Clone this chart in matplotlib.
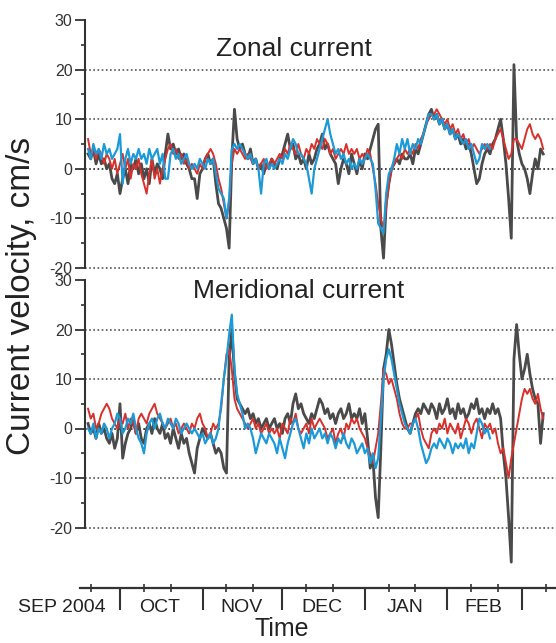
import datetime as dt

import matplotlib
matplotlib.use("Agg")
import matplotlib.dates as mdates
import matplotlib.pyplot as plt
import matplotlib.ticker as ticker
import matplotlib.transforms as mtransforms
import pandas as pd

plt.rcParams["font.family"] = ["Liberation Sans", "DejaVu Sans"]
plt.rcParams["axes.unicode_minus"] = False

# ── Data: daily current velocity (cm/s) ──────────────────────────────────────
OBS_START = "2004-09-19"      # grey (observed) and red series start here
BLUE_START = "2004-09-19"     # blue series starts here, ends mid-February

zonal_obs = [
    3, 2, 4, 1, 3, 1, 2, 0, 1, -2,
    -3, -1, -5, -2, 0, -3, 1, 0, 2, -1,
    1, -2, 0, -3, 2, -1, 1, 0, -2, 3,
    7, 4, 5, 3, 4, 2, 3, 1, 0, -2,
    -2, -6, -1, 0, 2, 3, 1, 2, -3, -7,
    -8, -10, -12, -16, 2, 12, 6, 4, 5, 3,
    2, 4, 1, 2, 0, 1, -1, 1, 0, 2,
    1, 0, 2, 3, 5, 7, 4, 5, 2, 3,
    1, 2, 0, 3, 1, 2, 4, 5, 7, 4,
    5, 3, 2, 1, -3, 0, 2, 1, -1, 3,
    1, -1, 2, 0, 3, 2, 4, 6, 8, 9,
    -12, -18, -7, -3, 0, 1, 2, 1, 3, 2,
    2, 3, 1, 4, 3, 5, 7, 9, 11, 12,
    10, 11, 9, 10, 8, 9, 7, 8, 6, 7,
    5, 6, 4, 5, 3, 0, -3, -2, 1, 3,
    4, 3, 5, 6, 8, 10, 6, 1, -6, -14,
    21, 6, 3, 1, 0, -2, -5, -1, 2, 0, 4, 3,
]
zonal_red = [
    6, 3, 4, 2, 4, 3, 1, 3, 2, 0,
    2, -1, 1, 3, 0, 2, -2, 1, 0, 2,
    -1, -3, -5, -1, 2, -2, 0, -3, 0, 2,
    4, 5, 3, 4, 2, 3, 1, 2, 0, 1,
    0, -1, 1, 0, 2, 3, 4, 3, 1, -2,
    -4, -7, -10, -7, 1, 4, 3, 4, 3, 2,
    3, 2, 1, 2, 0, 1, 2, 0, 1, 2,
    1, 2, 3, 2, 4, 3, 5, 4, 3, 5,
    3, 2, 4, 3, 5, 4, 6, 5, 4, 6,
    5, 3, 4, 2, 3, 4, 3, 5, 3, 4,
    3, 4, 2, 3, 2, 4, 3, 0, -3, -7,
    -10, -12, -8, -3, 0, 1, 2, 3, 2, 4,
    3, 4, 3, 5, 4, 6, 7, 9, 10, 11,
    11, 12, 11, 10, 9, 10, 8, 9, 7, 8,
    6, 7, 5, 6, 4, 5, 4, 3, 4, 5,
    4, 5, 4, 6, 7, 8, 6, 4, 2, 3,
    6, 6, 5, 4, 6, 8, 9, 7, 6, 7, 6, 4,
]
zonal_blue = [
    4, 2, 5, 3, 4, 2, 5, 3, 4, 2,
    3, 4, 7, -3, 2, 4, 1, 3, 2, 4,
    2, 3, 1, 4, 2, 3, 4, 1, 3, -2,
    -2, 3, 4, 2, 3, 1, 2, 3, 1, 0,
    1, 0, 2, 1, 0, 2, 1, 2, -1, -4,
    -5, -6, -10, -6, 4, 5, 4, 5, 4, 3,
    2, 3, 1, 2, 0, -5, 1, 2, 0, 1,
    0, 1, 2, 1, 3, 2, 4, 6, 5, 3,
    3, 2, 1, -2, -5, 0, 2, 4, 6, 8,
    10, 7, 5, 3, 4, 2, 3, 1, 2, 0,
    1, 0, 2, 1, 2, 3, 2, 1, -4, -11,
    -12, -13, -5, -1, 0, 2, 5, 3, 6, 4,
    6, 3, 5, 4, 6, 5, 7, 9, 11, 11,
    10, 11, 9, 10, 8, 9, 7, 8, 6, 7,
    6, 5, 6, 4, 5, 3, 1, 2, 5, 4,
    5, 4,
]
merid_obs = [
    1, -1, 0, -2, 1, -1, 0, -2, -3, -1,
    -4, -2, 5, -6, -3, -1, 0, 2, -1, 1,
    -2, -3, 0, 1, -1, 2, 0, -1, 1, -2,
    -1, -3, 0, -2, -4, -1, -3, -2, -5, -7,
    -9, -4, -2, 0, -1, -2, -1, -3, -5, -4,
    -5, -8, -9, 14, 20, 11, 6, 5, 4, 3,
    4, 2, 3, 1, 2, 0, 1, 2, 0, 1,
    2, 0, 1, -1, 2, 3, 1, 5, 7, 4,
    5, 3, 2, 1, 3, 2, 4, 6, 5, 3,
    4, 2, 3, 1, 3, 4, 2, 3, 5, 2,
    3, 2, 4, 1, 3, -2, -8, -6, -14, -18,
    -4, 12, 15, 20, 17, 13, 9, 6, 4, 2,
    0, -1, 1, 3, 4, 3, 5, 4, 3, 5,
    4, 2, 5, 3, 4, 6, 3, 4, 2, 5,
    3, 4, 2, 3, 5, 4, 6, 3, 4, 2,
    4, 3, 5, 3, 4, 2, -5, -10, -18, -27,
    14, 21, 15, 10, 12, 15, 11, 8, 6, 5, -3, 3,
]
merid_red = [
    4, 2, 3, 0, 1, 3, 4, 5, 4, 2,
    1, 0, 2, 1, 3, 0, 2, 1, -1, 2,
    3, 2, 1, 3, 4, 5, 3, 2, 1, 0,
    1, 2, 0, 1, -1, 0, 1, 0, -1, 1,
    0, 2, 3, 1, 0, -2, -1, 1, 0, 1,
    4, 10, 15, 16, 12, 6, 4, 3, 2, 1,
    0, 1, 2, 0, 1, -1, 0, 1, -1, 0,
    -1, 0, -2, 1, 0, -1, 2, 1, 3, 0,
    -1, 0, 1, -1, 2, 0, 1, 2, 1, 0,
    -2, -1, 0, -3, -1, 0, -2, 1, 0, 2,
    1, 2, 0, -1, -2, -4, -5, -7, -4, -1,
    5, 12, 11, 9, 10, 8, 6, 3, 1, 0,
    0, 1, 1, 2, 3, 0, -2, -3, -4, -1,
    0, -1, 1, 0, 2, -1, 1, 0, -1, 1,
    -2, 0, 2, 1, -1, 1, 2, 0, -2, 1,
    0, 1, -1, 0, -3, -5, -4, -7, -10, -6,
    -3, 0, 3, 6, 8, 7, 8, 6, 5, 7, 4, 2,
]
merid_blue = [
    0, -1, 1, -2, 0, -1, 1, 0, -2, 0,
    1, 3, 2, -1, 0, 2, 1, 3, 0, -2,
    -3, -5, -1, 1, 2, 0, 2, 3, 1, 0,
    2, 1, 0, 2, 1, -1, 0, 1, 0, -1,
    0, -1, -2, -1, -3, -2, -1, -3, -2, 0,
    5, 10, 14, 19, 23, 12, 7, 5, 3, 0,
    1, 0, -2, -5, -3, -1, -2, -3, -1, -2,
    -3, -5, -2, -4, -6, -3, -1, 1, 2, 0,
    -2, -4, -1, -3, 0, -2, -1, 0, -2, -1,
    -3, -1, -2, -4, -2, -3, -1, -3, -4, -2,
    -3, -5, -4, -3, -5, -4, -7, -5, -8, -6,
    2, 10, 14, 16, 14, 11, 8, 5, 3, 1,
    0, -1, 1, 2, 0, -3, -5, -7, -6, -4,
    -3, -4, -2, -3, -4, -2, -3, -5, -3, -4,
    -3, -4, -2, -5, -3, -4, -1, 2, 1, -1,
    0, -2,
]

month_labels = ["SEP 2004", "OCT", "NOV", "DEC", "JAN", "FEB"]
month_label_dates = ["2004-09-09", "2004-10-16", "2004-11-15 12:00",
                     "2004-12-16", "2005-01-16", "2005-02-14 12:00"]

# ── Style ─────────────────────────────────────────────────────────────────────
C_OBS = "#4a4a4a"
C_RED = "#d8302a"
C_BLUE = "#1c9ad8"
C_AXIS = "#333333"
GRID_LEVELS = [-20, -10, 0, 10, 20]

W, H = 556, 643
fig = plt.figure(figsize=(W / 100, H / 100), dpi=100)


def fx(px):
    return px / W


def fy(py):
    return 1 - py / H


base = dt.datetime(2004, 9, 1)
x_left = mdates.date2num(base + dt.timedelta(days=16.85))
x_right = mdates.date2num(base + dt.timedelta(days=193.8))

t_obs = pd.date_range(OBS_START, periods=len(zonal_obs), freq="D")
t_blue = pd.date_range(BLUE_START, periods=len(zonal_blue), freq="D")


def panel(rect, ylim, obs, red, blue):
    ax = fig.add_axes(rect)
    ax.set_xlim(x_left, x_right)
    ax.set_ylim(*ylim)
    for lev in GRID_LEVELS:
        ax.axhline(lev, color="#222222" if lev == 0 else "#555555",
                   lw=1.2, ls=(0, (1, 1.5)), zorder=1, clip_on=False)
    ax.plot(t_obs, obs, color=C_OBS, lw=2.0, zorder=2)
    ax.plot(t_obs, red, color=C_RED, lw=1.4, zorder=3)
    ax.plot(t_blue, blue, color=C_BLUE, lw=1.6, zorder=4)
    for s in ("top", "right", "bottom"):
        ax.spines[s].set_visible(False)
    ax.spines["left"].set_color(C_AXIS)
    ax.spines["left"].set_linewidth(1.5)
    ax.spines["left"].set_bounds(-20, 30)
    ax.set_xticks([])
    ax.yaxis.set_major_locator(ticker.FixedLocator([-20, -10, 0, 10, 20, 30]))
    ax.yaxis.set_minor_locator(ticker.FixedLocator([-15, -5, 5, 15, 25]))
    ax.tick_params(axis="y", which="major", direction="out", length=7,
                   width=1.3, color=C_AXIS, labelsize=11.5,
                   labelcolor=C_AXIS, pad=2)
    ax.tick_params(axis="y", which="minor", direction="out", length=3,
                   width=1.2, color=C_AXIS)
    ax.patch.set_visible(False)
    return ax


ax_z = panel([fx(85), fy(268), fx(W - 85), (268 - 20) / H], (-20, 30),
             zonal_obs, zonal_red, zonal_blue)
ax_m = panel([fx(85), fy(577), fx(W - 85), (577 - 280) / H], (-30, 30),
             merid_obs, merid_red, merid_blue)

# ── Shared time axis ─────────────────────────────────────────────────────────
ax_t = fig.add_axes([fx(80), fy(588), fx(W - 80), 0.01])
ax_t.set_xlim(mdates.date2num(base + dt.timedelta(days=14.97)), x_right)
ax_t.set_yticks([])
for s in ("top", "right", "left"):
    ax_t.spines[s].set_visible(False)
ax_t.spines["bottom"].set_color(C_AXIS)
ax_t.spines["bottom"].set_linewidth(1.6)
ax_t.patch.set_visible(False)
ax_t.xaxis.set_major_locator(mdates.MonthLocator())
ax_t.xaxis.set_minor_locator(mdates.DayLocator(bymonthday=[10, 20]))
ax_t.xaxis.set_major_formatter(ticker.NullFormatter())
ax_t.xaxis.set_minor_formatter(ticker.NullFormatter())
ax_t.tick_params(axis="x", which="major", direction="out", length=16,
                 width=1.5, color=C_AXIS)
ax_t.tick_params(axis="x", which="minor", direction="inout", length=6,
                 width=1.2, color=C_AXIS)

trans = mtransforms.blended_transform_factory(ax_t.transData, fig.transFigure)
for lab, d in zip(month_labels, month_label_dates):
    ax_t.text(mdates.date2num(pd.Timestamp(d)), fy(612), lab, transform=trans,
              ha="center", va="baseline", fontsize=14, color="#222222",
              clip_on=False)

fig.text(fx(282), fy(636), "Time", ha="center", va="baseline",
         fontsize=18, color="#222222")
fig.text(fx(22), fy(296), "Current velocity, cm/s", rotation=90,
         ha="center", va="center", fontsize=24, color="#222222")
fig.text(fx(294), fy(56), "Zonal current", ha="center", va="baseline",
         fontsize=19, color="#222222")
fig.text(fx(299), fy(298), "Meridional current", ha="center", va="baseline",
         fontsize=19, color="#222222")

fig.savefig("out.png", dpi=100)
